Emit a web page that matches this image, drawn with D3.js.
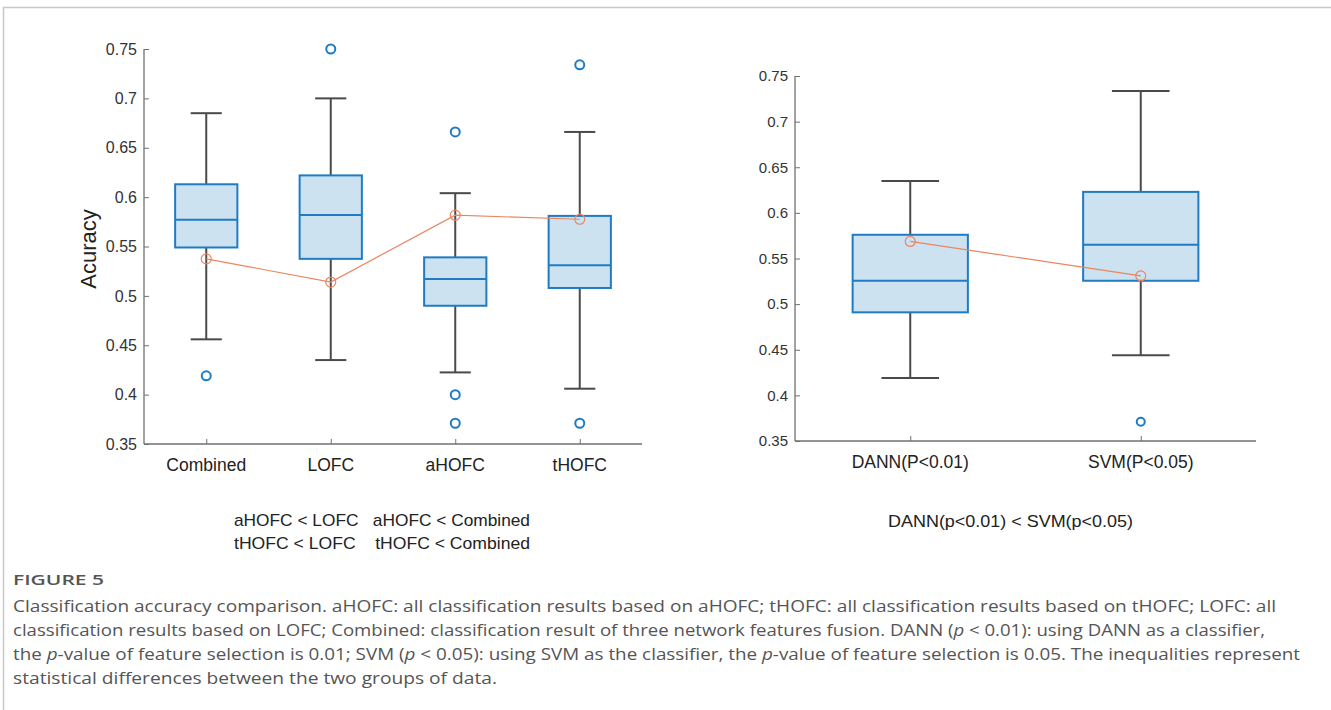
<!DOCTYPE html>
<html>
<head>
<meta charset="utf-8">
<script src="https://cdn.jsdelivr.net/npm/d3@7"></script>
<style>
  body { margin: 0; background: #fff; }
  svg { display: block; }
</style>
</head>
<body>
<script>
// boxplot stats

// left panel
var leftCats = ["Combined", "LOFC", "aHOFC", "tHOFC"];
var leftLow = [0.456, 0.435, 0.4225, 0.406];
var leftQ1 = [0.549, 0.5375, 0.490, 0.508];
var leftMed = [0.577, 0.582, 0.517, 0.531];
var leftQ3 = [0.613, 0.622, 0.539, 0.581];
var leftHigh = [0.685, 0.700, 0.604, 0.666];
var leftMean = [0.5375, 0.514, 0.5817, 0.5776];
var leftOut = [[0.419], [0.750], [0.666, 0.400, 0.371], [0.734, 0.371]];

// right panel
var rightCats = ["DANN(P<0.01)", "SVM(P<0.05)"];
var rightLow = [0.419, 0.444];
var rightQ1 = [0.491, 0.5256];
var rightMed = [0.5256, 0.565];
var rightQ3 = [0.576, 0.623];
var rightHigh = [0.635, 0.7336];
var rightMean = [0.5687, 0.531];
var rightOut = [[], [0.371]];

var yTicks = [0.35, 0.4, 0.45, 0.5, 0.55, 0.6, 0.65, 0.7, 0.75];

var w = 1331, h = 710;
var svg = d3.select('body').append('svg').attr('width', w).attr('height', h);

// frame
svg.append('line').attr('x1', 3).attr('x2', w).attr('y1', 7.5).attr('y2', 7.5)
  .attr('stroke', '#c8c8c8').attr('stroke-width', 1.5);
svg.append('line').attr('x1', 3.5).attr('x2', 3.5).attr('y1', 7).attr('y2', h)
  .attr('stroke', '#c8c8c8').attr('stroke-width', 1.5);

var blue = '#1f7cc4', fillBlue = '#cce2f1', dark = '#4a4a4a', orange = '#ec8560', axisCol = '#707070';
var numFont = '"Liberation Sans", Arial, sans-serif';

var drawPanel = function(opt){
  var n = opt.cats.length;
  var x = d3.scaleLinear().domain([0.5, n + 0.5]).range([opt.x0, opt.x1]);
  var y = d3.scaleLinear().domain([0.35, 0.75]).range([opt.y1, opt.y0]);
  var g = svg.append('g');
  var bw = x(1.25) - x(1);   // half box width
  var cw = x(1.125) - x(1);  // half cap width

  // axes
  var yAxis = d3.axisRight(y).tickValues(yTicks).tickSize(5).tickFormat(d3.format('~g'));
  var ga = g.append('g').attr('transform', 'translate(' + opt.x0 + ',0)').call(yAxis);
  ga.select('.domain').attr('stroke', axisCol).attr('stroke-width', 1.3).attr('d', 'M0,' + opt.y0 + 'V' + opt.y1);
  ga.selectAll('.tick line').attr('stroke', axisCol);
  ga.selectAll('.tick text').attr('x', -7).attr('text-anchor', 'end')
    .attr('font-family', numFont).attr('font-size', opt.tickSize).attr('fill', '#333');

  var xAxis = d3.axisTop(x).tickValues(d3.range(1, n + 1)).tickSize(5).tickFormat('');
  var gx = g.append('g').attr('transform', 'translate(0,' + opt.y1 + ')').call(xAxis);
  gx.select('.domain').attr('stroke', axisCol).attr('stroke-width', 1.3).attr('d', 'M' + opt.x0 + ',0H' + opt.x1);
  gx.selectAll('.tick line').attr('stroke', axisCol);

  g.selectAll('text.cat').data(opt.cats).enter().append('text').attr('class', 'cat')
    .attr('x', function(d, i){ return x(i + 1); })
    .attr('y', opt.y1 + 27)
    .attr('text-anchor', 'middle')
    .attr('font-family', numFont).attr('font-size', 17.5).attr('fill', '#222')
    .text(function(d){ return d; });

  var idx = d3.range(n);
  // whiskers
  g.selectAll('line.wh').data(idx).enter().append('line').attr('class', 'wh')
    .attr('x1', function(i){ return x(i + 1); }).attr('x2', function(i){ return x(i + 1); })
    .attr('y1', function(i){ return y(opt.high[i]); }).attr('y2', function(i){ return y(opt.low[i]); })
    .attr('stroke', dark).attr('stroke-width', 2);
  [opt.high, opt.low].forEach(function(arr){
    g.selectAll(null).data(idx).enter().append('line')
      .attr('x1', function(i){ return x(i + 1) - cw; }).attr('x2', function(i){ return x(i + 1) + cw; })
      .attr('y1', function(i){ return y(arr[i]); }).attr('y2', function(i){ return y(arr[i]); })
      .attr('stroke', dark).attr('stroke-width', 2);
  });
  // boxes
  g.selectAll('rect.box').data(idx).enter().append('rect').attr('class', 'box')
    .attr('x', function(i){ return x(i + 1) - bw; })
    .attr('width', 2 * bw)
    .attr('y', function(i){ return y(opt.q3[i]); })
    .attr('height', function(i){ return y(opt.q1[i]) - y(opt.q3[i]); })
    .attr('fill', fillBlue).attr('stroke', blue).attr('stroke-width', 2);
  g.selectAll('line.med').data(idx).enter().append('line').attr('class', 'med')
    .attr('x1', function(i){ return x(i + 1) - bw; }).attr('x2', function(i){ return x(i + 1) + bw; })
    .attr('y1', function(i){ return y(opt.med[i]); }).attr('y2', function(i){ return y(opt.med[i]); })
    .attr('stroke', blue).attr('stroke-width', 2);
  // outliers
  var outs = [];
  opt.out.forEach(function(arr, i){ arr.forEach(function(v){ outs.push({i: i, v: v}); }); });
  g.selectAll('circle.out').data(outs).enter().append('circle').attr('class', 'out')
    .attr('cx', function(d){ return x(d.i + 1); }).attr('cy', function(d){ return y(d.v); })
    .attr('r', opt.outR).attr('fill', 'none').attr('stroke', blue).attr('stroke-width', 2);
  // mean line
  var line = d3.line().x(function(d, i){ return x(i + 1); }).y(function(d){ return y(d); });
  g.append('path').datum(opt.mean).attr('d', line)
    .attr('fill', 'none').attr('stroke', orange).attr('stroke-width', 1.2);
  g.selectAll('circle.mean').data(opt.mean).enter().append('circle').attr('class', 'mean')
    .attr('cx', function(d, i){ return x(i + 1); }).attr('cy', function(d){ return y(d); })
    .attr('r', 5).attr('fill', 'none').attr('stroke', orange).attr('stroke-width', 1.2);
};

drawPanel({cats: leftCats, low: leftLow, q1: leftQ1, med: leftMed, q3: leftQ3, high: leftHigh,
  mean: leftMean, out: leftOut, x0: 144, x1: 642, y0: 49, y1: 444, tickSize: 16, outR: 4.5});
drawPanel({cats: rightCats, low: rightLow, q1: rightQ1, med: rightMed, q3: rightQ3, high: rightHigh,
  mean: rightMean, out: rightOut, x0: 795, x1: 1256, y0: 76, y1: 441, tickSize: 15, outR: 4});

// y label
svg.append('text').attr('transform', 'translate(96,249) rotate(-90)')
  .attr('text-anchor', 'middle').attr('font-family', numFont).attr('font-size', 22).attr('fill', '#222')
  .text('Acuracy');

// significance notes
var noteLeft = ['aHOFC < LOFC   aHOFC < Combined', 'tHOFC < LOFC    tHOFC < Combined'];
var noteRight = ['DANN(p<0.01) < SVM(p<0.05)'];
svg.selectAll('text.noteL').data(noteLeft).enter().append('text').attr('class', 'noteL')
  .attr('x', 234).attr('y', function(d, i){ return 526 + i * 23; })
  .attr('xml:space', 'preserve').style('white-space', 'pre')
  .attr('textLength', 296).attr('lengthAdjust', 'spacingAndGlyphs')
  .attr('font-family', numFont).attr('font-size', 17).attr('fill', '#222').text(function(d){ return d; });
svg.selectAll('text.noteR').data(noteRight).enter().append('text').attr('class', 'noteR')
  .attr('x', 888).attr('y', 527)
  .attr('textLength', 245).attr('lengthAdjust', 'spacingAndGlyphs')
  .attr('font-family', numFont).attr('font-size', 17).attr('fill', '#222').text(function(d){ return d; });

// caption
var capFont = '"Open Sans", "Noto Sans", sans-serif';
svg.append('text').attr('x', 13).attr('y', 585).attr('font-family', capFont)
  .attr('font-size', 14).attr('font-weight', 600).attr('fill', '#555')
  .attr('textLength', 91).attr('lengthAdjust', 'spacingAndGlyphs').text('FIGURE 5');

var capLines = [
  [['Classification accuracy comparison. aHOFC: all classification results based on aHOFC; tHOFC: all classification results based on tHOFC; LOFC: all', 0]],
  [['classification results based on LOFC; Combined: classification result of three network features fusion. DANN (', 0], ['p', 1], [' < 0.01): using DANN as a classifier,', 0]],
  [['the ', 0], ['p', 1], ['-value of feature selection is 0.01; SVM (', 0], ['p', 1], [' < 0.05): using SVM as the classifier, the ', 0], ['p', 1], ['-value of feature selection is 0.05. The inequalities represent', 0]],
  [['statistical differences between the two groups of data.', 0]]
];
var capWidths = [1263, 1252, 1287, 484];
capLines.forEach(function(parts, li){
  var t = svg.append('text').attr('x', 13).attr('y', 612 + li * 24)
    .attr('font-family', capFont).attr('font-size', 17).attr('fill', '#555');
  parts.forEach(function(p){
    t.append('tspan').attr('font-style', p[1] ? 'italic' : 'normal').text(p[0]);
  });
  t.attr('textLength', capWidths[li]).attr('lengthAdjust', 'spacingAndGlyphs');
});
</script>
</body>
</html>
